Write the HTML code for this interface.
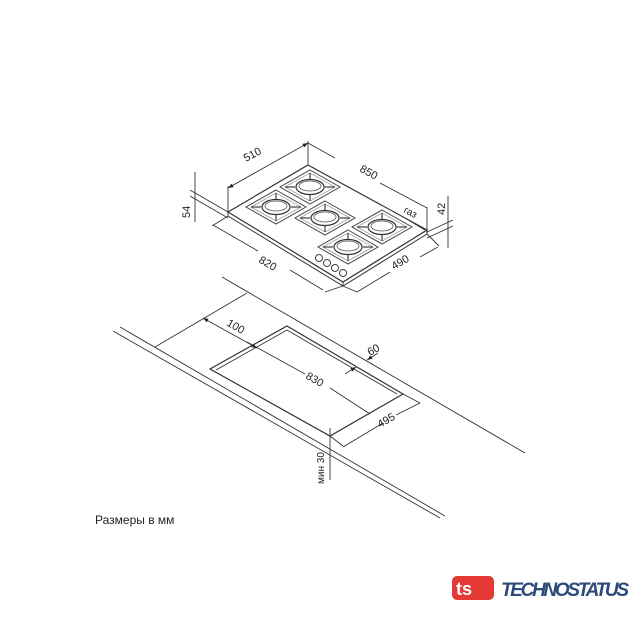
<!DOCTYPE html>
<html><head><meta charset="utf-8"><style>
html,body{margin:0;padding:0;background:#fff;}
svg{display:block;}
text{font-family:"Liberation Sans","DejaVu Sans",sans-serif;fill:#222;}
</style></head><body>
<svg width="640" height="640" viewBox="0 0 640 640" xmlns="http://www.w3.org/2000/svg">
<defs>
<marker id="ar" viewBox="0 0 8 8" refX="8" refY="4" markerWidth="6" markerHeight="6" orient="auto-start-reverse"><path d="M0,1 L8,4 L0,7 z" fill="#222"/></marker>
<g id="burner">
 <path d="M0,-17 L30,0 L0,17 L-30,0 Z" fill="none" stroke="#444" stroke-width="1"/>
 <path d="M0,-14 L25,0 L0,14 L-25,0 Z" fill="none" stroke="#888" stroke-width="0.7"/>
 <path d="M0,-14 L0,-8 M0,14 L0,8 M-25,0 L-15,0 M25,0 L15,0" stroke="#444" stroke-width="1.2"/>
 <ellipse cx="0" cy="0" rx="14" ry="7.5" fill="#fff" stroke="#333" stroke-width="1.2"/>
 <ellipse cx="0" cy="-1" rx="11" ry="5" fill="none" stroke="#555" stroke-width="0.8"/>
</g>
</defs>
<g stroke="#333" stroke-width="1" fill="none">
<!-- hob body -->
<path d="M308,165 L427,230 L343,282 L228,212 Z" stroke-width="1.2"/>
<path d="M228,212 L228,216 L343,286 L427,234 L427,230" />
<path d="M343,282 L343,286"/>
</g>
<use href="#burner" x="310" y="187"/>
<use href="#burner" x="276" y="207"/>
<use href="#burner" x="325" y="218"/>
<use href="#burner" x="382" y="227"/>
<use href="#burner" x="348" y="247"/>
<g fill="#fff" stroke="#444" stroke-width="1">
<circle cx="319" cy="258" r="3.5"/><circle cx="327" cy="263" r="3.5"/><circle cx="335" cy="268" r="3.5"/><circle cx="343" cy="273" r="3.5"/>
</g>
<g stroke="#333" stroke-width="0.9" fill="none">
<!-- hob dims -->
<path d="M228,212 L228,186"/><path d="M308,165 L308,141"/><path d="M427,230 L427,207"/>
<line x1="228" y1="188" x2="308" y2="143" marker-start="url(#ar)" marker-end="url(#ar)"/>
<path d="M308,143 L335,158 M380,183 L427,208" />
<path d="M228,216 L212,226"/><path d="M343,286 L325,292"/>
<path d="M213,225 L258,251 M290,270 L323,290"/>
<path d="M343,286 L357,292 M427,234 L439,246"/>
<path d="M357,292 L390,272 M420,257 L438,247"/>
<line x1="195" y1="172" x2="195" y2="222"/>
<path d="M190,190 L228,212 M190,196 L228,218"/>
<line x1="448" y1="196" x2="448" y2="248"/>
<path d="M427,232 L453,220 M427,238 L453,226"/>
<path d="M405,218 L425,230"/>
<!-- countertop -->
<line x1="222" y1="277" x2="525" y2="453"/>
<line x1="113" y1="331" x2="440" y2="518"/>
<line x1="120" y1="327" x2="445" y2="516"/>
<line x1="155" y1="347" x2="247" y2="293"/>
<!-- cutout -->
<path d="M287,326 L403,394 L330,436 L210,369 Z" stroke-width="1.2"/>
<path d="M287,330 L397,394 M287,330 L216,370"/>
<!-- cut dims -->
<line x1="203" y1="318" x2="257" y2="348" marker-start="url(#ar)" marker-end="url(#ar)"/>
<path d="M247,342 L305,374 M330,388 L370,414"/>
<line x1="367" y1="360" x2="378" y2="353" marker-start="url(#ar)"/>
<line x1="345" y1="374" x2="356" y2="367" marker-end="url(#ar)"/>
<path d="M403,394 L420,403 M330,436 L343,446"/>
<path d="M343,447 L383,423 M396,415 L420,403"/>
<line x1="330" y1="428" x2="330" y2="480"/>
</g>
<g font-size="11">
<text x="246" y="162" transform="rotate(-28 246 162)">510</text>
<text x="359" y="171" transform="rotate(29 359 171)">850</text>
<text x="258" y="262" transform="rotate(30 258 262)">820</text>
<text x="394" y="270" transform="rotate(-30 394 270)">490</text>
<text x="190" y="218" transform="rotate(-90 190 218)">54</text>
<text x="445" y="215" transform="rotate(-90 445 215)">42</text>
<text x="403" y="212" transform="rotate(28 403 212)" font-size="10">газ</text>
<text x="226" y="325" transform="rotate(30 226 325)">100</text>
<text x="305" y="378" transform="rotate(30 305 378)">830</text>
<text x="370" y="356" transform="rotate(-30 370 356)">60</text>
<text x="380" y="428" transform="rotate(-30 380 428)">495</text>
<text x="324" y="484" transform="rotate(-90 324 484)" font-size="10">мин 30</text>
</g>
<text x="95" y="524" font-size="12">Размеры в мм</text>
<!-- logo -->
<rect x="452" y="576" width="42" height="24" rx="5" fill="#e53935"/>
<text x="456" y="595" font-size="18" font-weight="bold" style="fill:#fff">ts</text>
<text x="501" y="596" font-size="19" font-weight="bold" font-style="italic" style="fill:#2e4a7a" textLength="128">TECHNOSTATUS</text>
</svg>
</body></html>
